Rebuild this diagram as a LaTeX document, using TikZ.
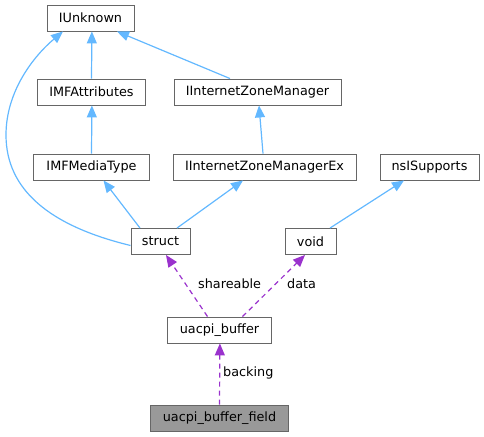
\documentclass[tikz,border=0pt]{standalone}
\usepackage{fontspec}
\setmainfont{DejaVu Sans}
\usetikzlibrary{arrows.meta}
\definecolor{edgeblue}{HTML}{63B8FF}
\definecolor{edgepurple}{HTML}{9A32CD}
\definecolor{boxgray}{HTML}{666666}
\definecolor{fillgray}{HTML}{999999}
\begin{document}
\begin{tikzpicture}[x=1pt,y=-1pt,
  box/.style={draw=boxgray,line width=0.9pt,fill=white,minimum height=26pt,inner sep=0pt,
    font=\fontsize{12.8}{15}\selectfont,text=black},
  inh/.style={draw=edgeblue,line width=1.2pt,-{Triangle[length=12pt,width=10pt]}},
  usage/.style={draw=edgepurple,line width=1.2pt,dash pattern=on 5pt off 4pt,
    -{Triangle[length=12pt,width=10pt]}},
  lbl/.style={font=\fontsize{12.8}{15}\selectfont,text=black,inner sep=0pt}]
\useasboundingbox (0,0) rectangle (484,436);
\node[box,minimum width=87pt] (iunk) at (90.5,18) {IUnknown};
\node[box,minimum width=108pt] (imfa) at (91.5,92) {IMFAttributes};
\node[box,minimum width=167pt] (izm) at (257.5,92) {IInternetZoneManager};
\node[box,minimum width=116pt] (imfm) at (91.5,167) {IMFMediaType};
\node[box,minimum width=183pt] (izmx) at (264.5,167) {IInternetZoneManagerEx};
\node[box,minimum width=99pt] (nsis) at (429.5,167) {nsISupports};
\node[box,minimum width=59pt] (struct) at (160.5,241.5) {struct};
\node[box,minimum width=51pt] (void) at (310.5,241.5) {void};
\node[box,minimum width=104pt] (ubuf) at (219.5,330) {uacpi\_buffer};
\node[box,minimum width=138pt,fill=fillgray] (ubf) at (219.5,418) {uacpi\_buffer\_field};

\draw[inh] (imfa.north) -- ([xshift=0.4pt]imfa.north |- iunk.south);
\draw[inh] (imfm.north) -- ([xshift=0.4pt]imfm.north |- imfa.south);
\draw[inh] ([xshift=-27.5pt]izm.north) -- ([xshift=26.5pt]iunk.south);
\draw[inh] ([xshift=-1.5pt]izmx.north) -- ([xshift=1.5pt]izm.south);
\draw[inh] ([xshift=-20.5pt]struct.north) -- ([xshift=12pt]imfm.south);
\draw[inh] ([xshift=16.5pt]struct.north) -- ([xshift=-21.5pt]izmx.south);
\draw[inh] ([yshift=-4pt]struct.west) .. controls (50,226) and (6,190) .. (6,135)
  .. controls (6,90) and (35,55) .. ([xshift=-27.5pt]iunk.south);
\draw[inh] ([xshift=19.5pt]void.north) -- ([xshift=-25.5pt]nsis.south);

\draw[usage] ([xshift=-12pt]ubuf.north) -- ([xshift=5.5pt]struct.south);
\draw[usage] ([xshift=23pt]ubuf.north) -- ([xshift=-5.5pt]void.south);
\draw[usage] (ubf.north) -- ([xshift=0.4pt]ubuf.south);

\node[lbl,anchor=west] (l1) at (198,284) {shareable};
\node[lbl,anchor=west] (l2) at (287,284) {data};
\node[lbl,anchor=west] (l3) at (223,373) {backing};
\end{tikzpicture}
\end{document}
